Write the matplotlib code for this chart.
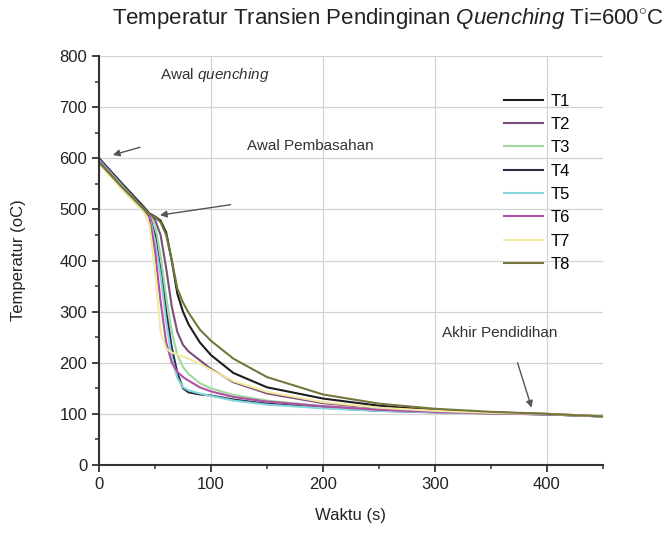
import matplotlib.pyplot as plt
from matplotlib.ticker import MultipleLocator

plt.rcParams['font.family'] = ['Liberation Sans', 'DejaVu Sans']
plt.rcParams['mathtext.fontset'] = 'custom'
plt.rcParams['mathtext.rm'] = 'Liberation Sans'
plt.rcParams['mathtext.it'] = 'Liberation Sans:italic'

# waktu (s)
waktu = [0, 20, 40, 45, 50, 55, 60, 65, 70, 75, 80, 90, 100, 120, 150,
         200, 250, 300, 350, 400, 450]

T1 = [600, 552, 505, 492, 486, 478, 455, 400, 335, 300, 275, 240, 215, 180, 152,
      130, 116, 107, 103, 100, 95]
T2 = [598, 550, 503, 490, 480, 450, 385, 310, 260, 235, 222, 205, 188, 162, 140,
      121, 111, 105, 102, 99, 95]
T3 = [596, 548, 502, 490, 470, 410, 330, 260, 215, 192, 178, 160, 150, 137, 126,
      115, 108, 104, 101, 99, 95]
T4 = [600, 550, 502, 488, 450, 380, 300, 230, 180, 150, 142, 138, 136, 128, 120,
      112, 106, 103, 101, 99, 95]
T5 = [597, 548, 500, 487, 440, 370, 280, 210, 170, 152, 146, 140, 135, 126, 118,
      111, 106, 103, 101, 99, 95]
T6 = [595, 545, 500, 485, 420, 320, 240, 200, 182, 172, 165, 152, 144, 133, 124,
      115, 108, 104, 101, 99, 95]
T7 = [590, 540, 495, 470, 380, 260, 228, 220, 216, 212, 208, 198, 186, 164, 143,
      123, 112, 106, 102, 100, 95]
T8 = [592, 545, 500, 490, 485, 475, 450, 400, 345, 318, 298, 265, 243, 208, 172,
      138, 120, 110, 104, 100, 95]

labels = ['T1', 'T2', 'T3', 'T4', 'T5', 'T6', 'T7', 'T8']
series = [T1, T2, T3, T4, T5, T6, T7, T8]
colors = ['#1e1e1e', '#7a4e78', '#9fd89a', '#2b2d45', '#86d6de', '#b050a4',
          '#f2eaa2', '#76763c']

fig = plt.figure(figsize=(6.66, 5.39), dpi=100)
ax = fig.add_axes([0.1486, 0.1373, 0.7568, 0.7587])

for y, c, lab in zip(series, colors, labels):
    ax.plot(waktu, y, color=c, lw=1.5, label=lab)

ax.set_xlim(0, 450)
ax.set_ylim(0, 800)
ax.xaxis.set_major_locator(MultipleLocator(100))
ax.xaxis.set_minor_locator(MultipleLocator(50))
ax.yaxis.set_major_locator(MultipleLocator(100))
ax.yaxis.set_minor_locator(MultipleLocator(50))
ax.grid(True, which='major', color='#d4d4d4', lw=0.9)
ax.set_axisbelow(True)
for s in ['top', 'right']:
    ax.spines[s].set_visible(False)
for s in ['left', 'bottom']:
    ax.spines[s].set_linewidth(1.5)
    ax.spines[s].set_color('#333333')
ax.tick_params(which='major', direction='out', length=5, width=1.3,
               labelsize=12, colors='#333333', labelcolor='#222222')
ax.tick_params(which='minor', direction='out', length=3, width=1.1, colors='#333333')

ax.set_xlabel('Waktu (s)', fontsize=12, color='#222222', labelpad=12)
ax.set_ylabel('Temperatur (oC)', fontsize=12, color='#222222', labelpad=24)

fig.text(0.583, 0.965,
         r'Temperatur Transien Pendinginan $\it{Quenching}$ Ti=600$^{\circ}$C',
         ha='center', va='center', fontsize=16, color='#222222')

leg = ax.legend(loc='upper left', bbox_to_anchor=(0.774, 0.945), frameon=False,
                fontsize=12, handlelength=2.33, labelspacing=0.5,
                handletextpad=0.45)

arrow = dict(arrowstyle='-|>', color='#555555', lw=1.0, mutation_scale=10)
ax.annotate(r'Awal $\it{quenching}$', xy=(54.5, 762), fontsize=11,
            color='#333333', va='center')
ax.annotate('', xy=(10, 605), xytext=(39, 623), arrowprops=arrow)
ax.annotate('Awal Pembasahan', xy=(132, 625), fontsize=11,
            color='#333333', va='center')
ax.annotate('', xy=(52, 488), xytext=(120, 510), arrowprops=arrow)
ax.annotate('Akhir Pendidihan', xy=(306, 258), fontsize=11,
            color='#333333', va='center')
ax.annotate('', xy=(387, 107), xytext=(373, 205), arrowprops=arrow)

fig.savefig('out.png', dpi=100)
